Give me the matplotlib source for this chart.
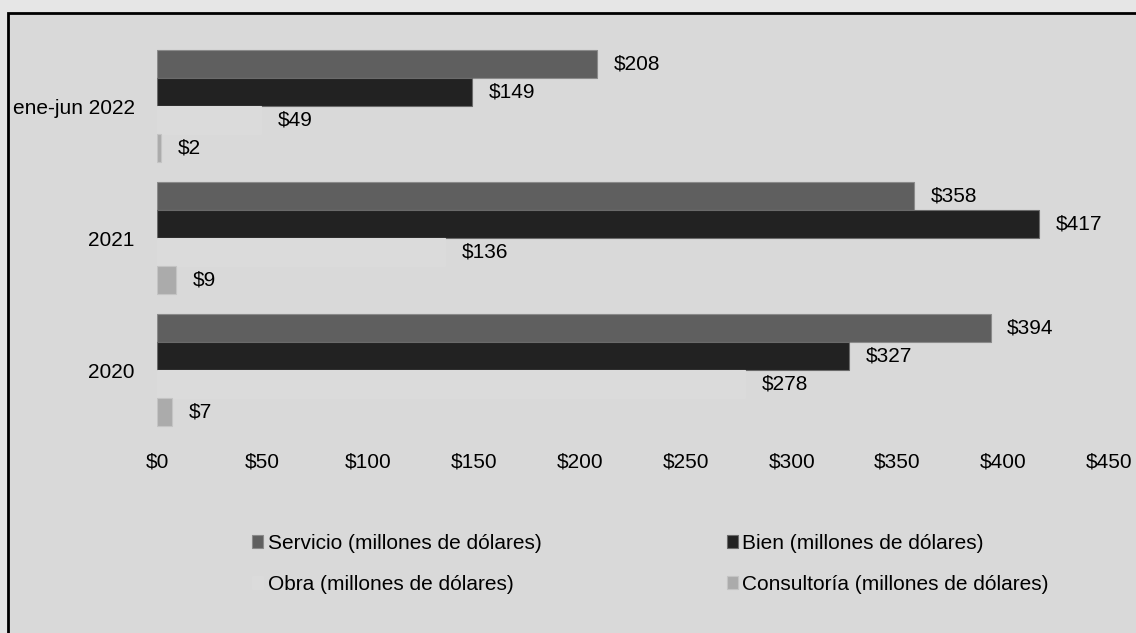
import numpy as np
import matplotlib
matplotlib.use('Agg')
from matplotlib import pyplot
from matplotlib.patches import Rectangle

periods = ['2020', '2021', 'ene-jun 2022']
series_names = ['Servicio (millones de dólares)', 'Bien (millones de dólares)',
                'Obra (millones de dólares)', 'Consultoría (millones de dólares)']
servicio = [394, 358, 208]
bien = [327, 417, 149]
obra = [278, 136, 49]
consultoria = [7, 9, 2]
x_ticks = [0, 50, 100, 150, 200, 250, 300, 350, 400, 450]

colors = ['#5f5f5f', '#222222', '#dbdbdb', '#ababab']
edges = ['#8a8a8a', '#6a6a6a', '#dbdbdb', '#c4c4c4']

pyplot.rcParams['font.family'] = ['Liberation Sans', 'DejaVu Sans']

W, H = 1136, 633
fig = pyplot.figure(figsize=(W / 100, H / 100), dpi=100, facecolor='#e6e6e6')

# chart area with black frame (right and bottom edges are cut off)
frame = Rectangle((8 / W, -0.1), 1.2, 1 - 13 / H + 0.1, transform=fig.transFigure,
                  facecolor='#d9d9d9', edgecolor='black', linewidth=2, zorder=-5)
fig.patches.append(frame)

ax = fig.add_axes([157 / W, 1 - 436 / H, (1109 - 157) / W, 396 / H])
ax.set_facecolor('none')
ax.set_zorder(2)

y = np.arange(len(periods))
h = 0.212
all_series = [servicio, bien, obra, consultoria]
offsets = [1.5 * h, 0.5 * h, -0.5 * h, -1.5 * h]

handles = []
for vals, off, col, ec, name in zip(all_series, offsets, colors, edges, series_names):
    bars = ax.barh(y + off, vals, height=h, color=col, edgecolor=ec, linewidth=0.8, label=name)
    handles.append(bars)
    for bar, v in zip(bars, vals):
        ax.annotate(f'${v}', xy=(bar.get_width(), bar.get_y() + bar.get_height() / 2),
                    xytext=(12, 0), textcoords='offset points', ha='left', va='center',
                    fontsize=15, color='black')

ax.set_xlim(0, 450)
ax.set_ylim(-0.5, 2.5)
ax.set_xticks(x_ticks)
ax.set_xticklabels([f'${t}' for t in x_ticks], fontsize=15)
ax.set_yticks(y)
ax.set_yticklabels(periods, fontsize=15)
ax.tick_params(axis='both', length=0)
ax.tick_params(axis='x', pad=12)
ax.tick_params(axis='y', pad=16)
for s in ax.spines.values():
    s.set_visible(False)

order = [0, 2, 1, 3]
leg = fig.legend([handles[i] for i in order], [series_names[i] for i in order],
                 ncol=2, loc='center left', bbox_to_anchor=(252 / W, 1 - 564 / H),
                 frameon=False, fontsize=15, handlelength=0.55, handleheight=0.55,
                 handletextpad=0.2, columnspacing=8.9, labelspacing=1.05,
                 borderaxespad=0, borderpad=0)
leg.set_zorder(3)

fig.savefig('out.png', dpi=100, facecolor=fig.get_facecolor())
